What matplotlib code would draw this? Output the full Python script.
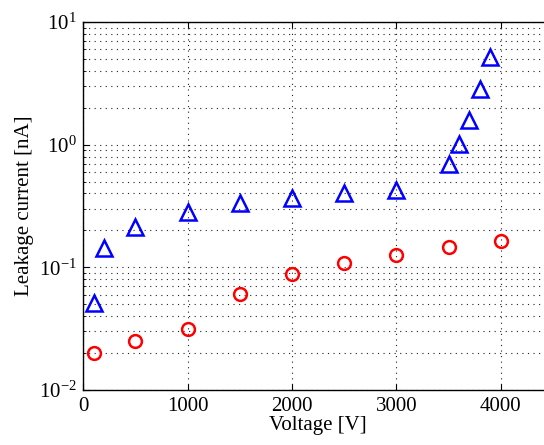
import numpy as np
import matplotlib.pyplot as plt
from matplotlib.ticker import LogLocator, NullFormatter

# data
v_tri = [100, 200, 500, 1000, 1500, 2000, 2500, 3000, 3500, 3600, 3700, 3800, 3900]
i_tri = [0.051, 0.143, 0.215, 0.283, 0.333, 0.366, 0.40, 0.428, 0.69, 1.02, 1.6, 2.85, 5.2]
v_circ = [100, 500, 1000, 1500, 2000, 2500, 3000, 3500, 4000]
i_circ = [0.0202, 0.0253, 0.0313, 0.0607, 0.0883, 0.108, 0.127, 0.146, 0.165]

plt.rcParams['font.family'] = ['Liberation Serif', 'DejaVu Serif']
plt.rcParams['mathtext.fontset'] = 'stix'

fig = plt.figure(figsize=(5.44, 4.45), dpi=100)
ax = fig.add_axes([83.3 / 544, 55 / 445, 469.6 / 544, 368 / 445])

ax.plot(v_tri, i_tri, linestyle='none', marker='^', markersize=11.5,
        markerfacecolor='none', markeredgecolor='#0000ff', markeredgewidth=1.8)
ax.plot(v_circ, i_circ, linestyle='none', marker='o', markersize=9.2,
        markerfacecolor='none', markeredgecolor='#ff0000', markeredgewidth=1.8)

ax.set_yscale('log')
ax.set_xlim(0, 4500)
ax.set_ylim(1e-2, 1e1)
ax.set_xticks([0, 1000, 2000, 3000, 4000])
ax.yaxis.set_major_locator(LogLocator(base=10))
ax.yaxis.set_minor_locator(LogLocator(base=10, subs=np.arange(2, 10)))
ax.yaxis.set_minor_formatter(NullFormatter())

# sparse dotted grid, like the original
dots = (0, (1, 4))
ax.grid(True, which='major', linestyle=dots, color='#222222', linewidth=0.8)
ax.grid(True, which='minor', axis='y', linestyle=dots, color='#222222', linewidth=0.8)
ax.tick_params(which='both', direction='in', labelsize=15, top=True, right=True)
ax.tick_params(which='major', length=4, pad=5)
ax.tick_params(which='minor', length=2)
for s in ax.spines.values():
    s.set_linewidth(1.0)

ax.set_xlabel('Voltage [V]', fontsize=15, labelpad=0)
ax.set_ylabel('Leakage current [nA]', fontsize=15, labelpad=3)

fig.savefig('out.png', dpi=100)
